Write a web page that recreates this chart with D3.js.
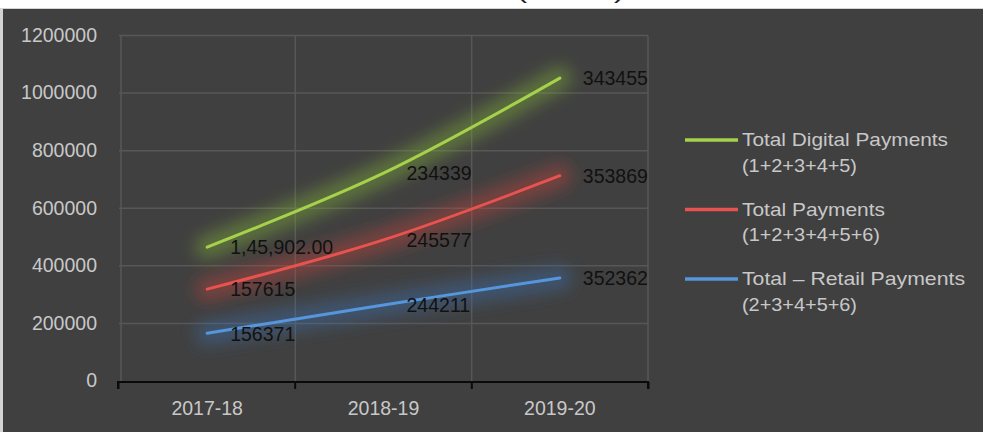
<!DOCTYPE html>
<html>
<head>
<meta charset="utf-8">
<script src="https://cdn.jsdelivr.net/npm/d3@7/dist/d3.min.js"></script>
<style>
  html, body { margin: 0; padding: 0; background: #ffffff; }
  svg { display: block; }
</style>
</head>
<body>
<svg id="chart" width="983" height="432"></svg>
<script>
// Payment volumes by year
const years = ["2017-18", "2018-19", "2019-20"];
const digitalPayments = [465000, 722000, 1052000];   // Total Digital Payments (1+2+3+4+5)
const totalPayments   = [319000, 490000, 713000];    // Total Payments (1+2+3+4+5+6)
const retailPayments  = [166000, 264000, 358000];    // Total – Retail Payments (2+3+4+5+6)

const digitalLabels = ["1,45,902.00", "234339", "343455"];
const totalLabels   = ["157615", "245577", "353869"];
const retailLabels  = ["156371", "244211", "352362"];

const yTicks = [0, 200000, 400000, 600000, 800000, 1000000, 1200000];
const titleText = "(in lakh)";

const seriesNames = [
  ["Total Digital Payments", "(1+2+3+4+5)"],
  ["Total Payments", "(1+2+3+4+5+6)"],
  ["Total \u2013 Retail Payments", "(2+3+4+5+6)"]
];

const series = [
  { values: digitalPayments, labels: digitalLabels, name: seriesNames[0], color: "#a6d14a", glow: "#86b43a" },
  { values: totalPayments,   labels: totalLabels,   name: seriesNames[1], color: "#e8524f", glow: "#c8403d" },
  { values: retailPayments,  labels: retailLabels,  name: seriesNames[2], color: "#5596dc", glow: "#3b72b3" }
];

const svg = d3.select("#chart");
const W = 983, H = 432;

// page strip and dark chart panel
svg.append("rect").attr("x", 0).attr("y", 0).attr("width", W).attr("height", H).attr("fill", "#ffffff");
svg.append("rect").attr("x", 0).attr("y", 8).attr("width", W).attr("height", H - 8).attr("fill", "#d4d4d4");
svg.append("rect").attr("x", 3).attr("y", 9).attr("width", W - 3).attr("height", H - 9).attr("fill", "#404040");

// title, sitting above the top edge of the page
svg.append("text")
  .attr("x", 517).attr("y", -0.8)
  .attr("font-family", "Liberation Sans, Arial, sans-serif")
  .attr("font-size", 20)
  .attr("fill", "#222")
  .attr("textLength", 107)
  .attr("lengthAdjust", "spacingAndGlyphs")
  .text(titleText);

const plot = { left: 119, right: 648, top: 35.5, bottom: 381 };

const x = d3.scaleBand().domain(years).range([plot.left, plot.right]).padding(0);
const y = d3.scaleLinear().domain([0, 1200000]).range([plot.bottom, plot.top]);

// soft glow filter
const defs = svg.append("defs");
const f = defs.append("filter").attr("id", "glow")
  .attr("x", "-25%").attr("y", "-80%").attr("width", "150%").attr("height", "260%");
f.append("feGaussianBlur").attr("stdDeviation", 8);

// gridlines
const grid = svg.append("g");
grid.selectAll("line.h").data(yTicks.slice(1)).join("line")
  .attr("x1", plot.left).attr("x2", plot.right)
  .attr("y1", d => y(d)).attr("y2", d => y(d))
  .attr("stroke", "#575757").attr("stroke-width", 1.5);
const vLines = years.map(d => x(d)).concat([plot.right]);
grid.selectAll("line.v").data(vLines).join("line")
  .attr("x1", d => d + (d === plot.left ? 2 : 0)).attr("x2", d => d + (d === plot.left ? 2 : 0))
  .attr("y1", plot.top).attr("y2", plot.bottom)
  .attr("stroke", "#575757").attr("stroke-width", 1.5);

// y axis labels
const yAxis = d3.axisLeft(y).tickValues(yTicks).tickSize(0).tickPadding(22).tickFormat(d3.format("d"));
const gy = svg.append("g").attr("transform", `translate(${plot.left},0)`).call(yAxis);
gy.select(".domain").remove();
gy.selectAll("text")
  .attr("font-family", "Liberation Sans, Arial, sans-serif")
  .attr("font-size", 19.5)
  .attr("fill", "#c8c8c8")
  .attr("dy", "0.3em");

// x axis
const xAxisScale = d3.scalePoint().domain(d3.range(years.length + 1)).range([plot.left - 1, plot.right]);
const gxLine = svg.append("g").attr("transform", `translate(0,${plot.bottom + 1})`)
  .call(d3.axisBottom(xAxisScale).tickSizeInner(7).tickSizeOuter(0).tickFormat(""));
gxLine.select(".domain").attr("stroke", "#0a0a0a").attr("stroke-width", 2)
  .attr("d", `M${plot.left - 1},7V0H${plot.right}V7`);
gxLine.selectAll(".tick line").attr("stroke", "#0a0a0a").attr("stroke-width", 2);

const gx = svg.append("g").attr("transform", `translate(0,${plot.bottom})`)
  .call(d3.axisBottom(x).tickSize(0).tickPadding(20));
gx.select(".domain").remove();
gx.selectAll("text")
  .attr("font-family", "Liberation Sans, Arial, sans-serif")
  .attr("font-size", 19.5)
  .attr("fill", "#c8c8c8");

// lines
const line = d3.line()
  .x((d, i) => x(years[i]) + x.bandwidth() / 2)
  .y(d => y(d))
  .curve(d3.curveCatmullRom.alpha(0));

const lines = svg.append("g");
series.forEach(s => {
  lines.append("path")
    .attr("d", line(s.values))
    .attr("fill", "none")
    .attr("stroke", s.glow)
    .attr("stroke-opacity", 0.42)
    .attr("stroke-width", 24)
    .attr("stroke-linecap", "round")
    .attr("filter", "url(#glow)");
});
series.forEach(s => {
  lines.append("path")
    .attr("d", line(s.values))
    .attr("fill", "none")
    .attr("stroke", s.color)
    .attr("stroke-width", 3)
    .attr("stroke-linecap", "round");
});

// data labels
const labelG = svg.append("g");
series.forEach(s => {
  labelG.selectAll(null).data(s.values).join("text")
    .attr("x", (d, i) => x(years[i]) + x.bandwidth() / 2 + 23)
    .attr("y", (d, i) => y(d) + 0.5)
    .attr("dy", "0.35em")
    .attr("font-family", "Liberation Sans, Arial, sans-serif")
    .attr("font-size", 19.5)
    .attr("fill", "#111111")
    .text((d, i) => s.labels[i]);
});

// legend
const legend = svg.append("g").attr("transform", "translate(685,140)");
const legendWidths = [[206, 115], [143, 138], [223, 115]];
series.forEach((s, i) => {
  const g = legend.append("g").attr("transform", `translate(0,${i * 69.5})`);
  g.append("line").attr("x1", 0).attr("x2", 53).attr("y1", 0).attr("y2", 0)
    .attr("stroke", s.color).attr("stroke-width", 3.5);
  g.append("text").attr("x", 57).attr("y", 0).attr("dy", "0.35em")
    .attr("font-family", "Liberation Sans, Arial, sans-serif")
    .attr("font-size", 18.5).attr("fill", "#c8c8c8")
    .attr("textLength", legendWidths[i][0]).attr("lengthAdjust", "spacingAndGlyphs")
    .text(s.name[0]);
  g.append("text").attr("x", 57).attr("y", 25.5).attr("dy", "0.35em")
    .attr("font-family", "Liberation Sans, Arial, sans-serif")
    .attr("font-size", 18.5).attr("fill", "#c8c8c8")
    .attr("textLength", legendWidths[i][1]).attr("lengthAdjust", "spacingAndGlyphs")
    .text(s.name[1]);
});
</script>
</body>
</html>
